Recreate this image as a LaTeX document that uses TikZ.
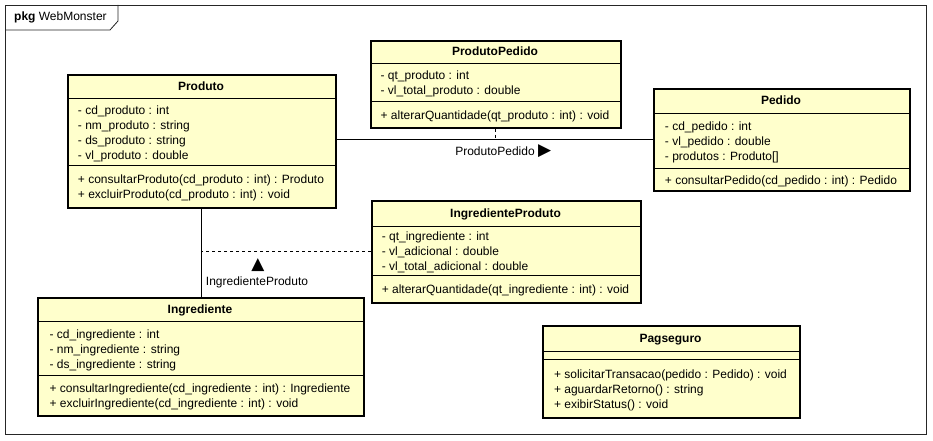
\documentclass[tikz,border=0pt]{standalone}
\usepackage{fontspec}
\usetikzlibrary{positioning}
\setmainfont{Liberation Sans}
\newfontfamily\symfont{DejaVu Sans}
\definecolor{classfill}{RGB}{255,255,204}

\begin{document}
\begin{tikzpicture}[x=1pt, y=-1pt,
	classbox/.style = {draw, line width=1.6pt, fill=classfill, inner sep=0pt, anchor=north west},
	classname/.style = {font=\fontsize{12}{15}\selectfont\bfseries, inner sep=0pt, text height=8.6pt, text depth=2.5pt},
	members/.style = {font=\fontsize{12}{15}\selectfont, align=left, inner sep=0pt},
	divider/.style = {line width=0.8pt},
	link/.style = {line width=0.8pt},
	assocdash/.style = {line width=0.8pt, dash pattern=on 3pt off 3pt},
	lbl/.style = {font=\fontsize{12}{15}\selectfont, inner sep=0pt},
	tip/.style = {font=\symfont\fontsize{17}{17}\selectfont, inner sep=0pt}]
	\useasboundingbox (0,0) rectangle (933,441);
	% Kehys
	\draw[line width=0.8pt, black!85] (5,5) rectangle (926,434);
	\draw[line width=0.8pt, black!85] (5,30) -- (110,30) -- (118,21) -- (118,5);
	\node[lbl, anchor=base west] (pkg) at (14,21) {\textbf{pkg} WebMonster};
	% Luokat
	\node[classbox, minimum width=268pt, minimum height=133pt] (produto) at (67,74) {};		% Produto
	\draw[divider] ([yshift=-24pt]produto.north west) -- ([yshift=-24pt]produto.north east);
	\draw[divider] ([yshift=-91pt]produto.north west) -- ([yshift=-91pt]produto.north east);
	\node[classname] (produtoName) at (201,87) {Produto};
	\node[members] (produtoOps) at (201,188) {+ consultarProduto(cd\_produto : int) : Produto\\+ excluirProduto(cd\_produto : int) : void};
	\node[members, anchor=west] (produtoAttr) at (produtoOps.west |- 0,133.5) {- cd\_produto : int\\- nm\_produto : string\\- ds\_produto : string\\- vl\_produto : double};

	\node[classbox, minimum width=250pt, minimum height=87pt] (produtoPedido) at (370,40) {};	% ProdutoPedido
	\draw[divider] ([yshift=-23pt]produtoPedido.north west) -- ([yshift=-23pt]produtoPedido.north east);
	\draw[divider] ([yshift=-61pt]produtoPedido.north west) -- ([yshift=-61pt]produtoPedido.north east);
	\node[classname] (produtoPedidoName) at (495,52.5) {ProdutoPedido};
	\node[members] (produtoPedidoOps) at (495,116) {+ alterarQuantidade(qt\_produto : int) : void};
	\node[members, anchor=west] (produtoPedidoAttr) at (produtoPedidoOps.west |- 0,84) {- qt\_produto : int\\- vl\_total\_produto : double};

	\node[classbox, minimum width=256pt, minimum height=102pt] (pedido) at (653,88) {};		% Pedido
	\draw[divider] ([yshift=-25pt]pedido.north west) -- ([yshift=-25pt]pedido.north east);
	\draw[divider] ([yshift=-80pt]pedido.north west) -- ([yshift=-80pt]pedido.north east);
	\node[classname] (pedidoName) at (781,101.5) {Pedido};
	\node[members] (pedidoOps) at (781,181) {+ consultarPedido(cd\_pedido : int) : Pedido};
	\node[members, anchor=west] (pedidoAttr) at (pedidoOps.west |- 0,142.5) {- cd\_pedido : int\\- vl\_pedido : double\\- produtos : Produto[]};

	\node[classbox, minimum width=269pt, minimum height=102pt] (ingredienteProduto) at (371,200) {};	% IngredienteProduto
	\draw[divider] ([yshift=-26pt]ingredienteProduto.north west) -- ([yshift=-26pt]ingredienteProduto.north east);
	\draw[divider] ([yshift=-75pt]ingredienteProduto.north west) -- ([yshift=-75pt]ingredienteProduto.north east);
	\node[classname] (ingredienteProdutoName) at (505.5,214) {IngredienteProduto};
	\node[members] (ingredienteProdutoOps) at (505.5,290.5) {+ alterarQuantidade(qt\_ingrediente : int) : void};
	\node[members, anchor=west] (ingredienteProdutoAttr) at (ingredienteProdutoOps.west |- 0,252.5) {- qt\_ingrediente : int\\- vl\_adicional : double\\- vl\_total\_adicional : double};

	\node[classbox, minimum width=326pt, minimum height=118pt] (ingrediente) at (37,297) {};	% Ingrediente
	\draw[divider] ([yshift=-24pt]ingrediente.north west) -- ([yshift=-24pt]ingrediente.north east);
	\draw[divider] ([yshift=-78pt]ingrediente.north west) -- ([yshift=-78pt]ingrediente.north east);
	\node[classname] (ingredienteName) at (200,310) {Ingrediente};
	\node[members] (ingredienteOps) at (200,397) {+ consultarIngrediente(cd\_ingrediente : int) : Ingrediente\\+ excluirIngrediente(cd\_ingrediente : int) : void};
	\node[members, anchor=west] (ingredienteAttr) at (ingredienteOps.west |- 0,350) {- cd\_ingrediente : int\\- nm\_ingrediente : string\\- ds\_ingrediente : string};

	\node[classbox, minimum width=257pt, minimum height=92pt] (pagseguro) at (542,325) {};		% Pagseguro
	\draw[divider] ([yshift=-26pt]pagseguro.north west) -- ([yshift=-26pt]pagseguro.north east);
	\draw[divider] ([yshift=-34pt]pagseguro.north west) -- ([yshift=-34pt]pagseguro.north east);
	\node[classname] (pagseguroName) at (670.5,339) {Pagseguro};
	\node[members] (pagseguroOps) at (670.5,390) {+ solicitarTransacao(pedido : Pedido) : void\\+ aguardarRetorno() : string\\+ exibirStatus() : void};
	% Yhteydet
	\draw[link] (produto.east |- pedido.west) -- (pedido.west);					% Produto - Pedido
	\draw[assocdash] (produtoPedido.south) -- (produtoPedido.south |- pedido.west);
	\draw[link] (produto.south) -- (produto.south |- ingrediente.north);				% Produto - Ingrediente
	\draw[assocdash] (ingredienteProduto.west) -- (ingredienteProduto.west -| produto.south);
	\node[lbl, text height=8.6pt, text depth=0pt] (ppLabel) at (495,151) {ProdutoPedido};
	\node[tip, right=3pt of ppLabel] (ppArrow) {▶};
	\node[tip] (ipArrow) at (258,265) {▲};
	\node[lbl] (ipLabel) at (257,282) {IngredienteProduto};
\end{tikzpicture}
\end{document}
